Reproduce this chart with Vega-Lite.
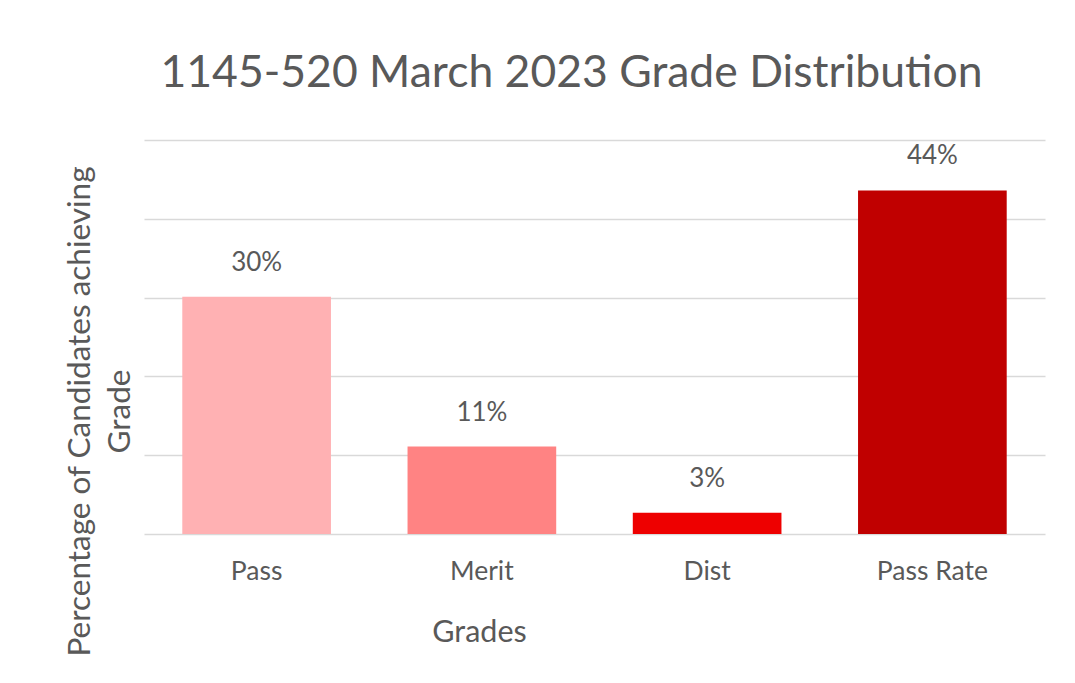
{
  "$schema": "https://vega.github.io/schema/vega-lite/v6.json",
  "width": 901,
  "height": 394,
  "autosize": {"type": "none"},
  "padding": {"left": 144, "top": 140, "right": 30, "bottom": 149},
  "background": "white",
  "config": {
    "view": {"stroke": null},
    "font": "Lato",
    "text": {"font": "Lato"}
  },
  "title": {
    "text": "1145-520 March 2023 Grade Distribution",
    "font": "Lato",
    "fontSize": 44.5,
    "fontWeight": "normal",
    "color": "#595959",
    "anchor": "middle",
    "dx": -23,
    "offset": 44
  },
  "data": {
    "values": [
      {"grade": "Pass", "pct": 0.301},
      {"grade": "Merit", "pct": 0.111},
      {"grade": "Dist", "pct": 0.027},
      {"grade": "Pass Rate", "pct": 0.436}
    ]
  },
  "encoding": {
    "x": {
      "field": "grade",
      "type": "nominal",
      "sort": ["Pass", "Merit", "Dist", "Pass Rate"],
      "scale": {"paddingInner": 0.34, "paddingOuter": 0.17},
      "axis": {
        "title": "Grades",
        "titleFont": "Lato",
        "titleFontSize": 30.5,
        "titleFontWeight": "normal",
        "titleColor": "#595959",
        "titleX": 335,
        "titleY": 98,
        "titleBaseline": "middle",
        "titleAlign": "center",
        "labelAngle": 0,
        "labelFont": "Lato",
        "labelFontSize": 26.5,
        "labelColor": "#595959",
        "labelPadding": 37,
        "labelBaseline": "middle",
        "ticks": false,
        "domain": false,
        "grid": false
      }
    },
    "y": {
      "field": "pct",
      "type": "quantitative",
      "scale": {"domain": [0, 0.5], "nice": false},
      "axis": {
        "title": ["Percentage of Candidates achieving", "Grade"],
        "titleFont": "Lato",
        "titleFontSize": 31.5,
        "titleFontWeight": "normal",
        "titleColor": "#595959",
        "titleAngle": -90,
        "titleX": -64,
        "titleY": 271,
        "titleAlign": "center",
        "titleBaseline": "middle",
        "titleLineHeight": 40,
        "values": [0, 0.1, 0.2, 0.3, 0.4, 0.5],
        "labels": false,
        "ticks": false,
        "domain": false,
        "grid": true,
        "gridColor": "#d9d9d9",
        "gridWidth": 1.5
      }
    }
  },
  "layer": [
    {
      "mark": {"type": "bar"},
      "encoding": {
        "color": {
          "field": "grade",
          "type": "nominal",
          "scale": {
            "domain": ["Pass", "Merit", "Dist", "Pass Rate"],
            "range": ["#ffb1b3", "#ff8383", "#ee0000", "#c00000"]
          },
          "legend": null
        }
      }
    },
    {
      "mark": {"type": "text", "font": "Lato", "fontSize": 26, "color": "#595959", "baseline": "middle", "dy": -34},
      "encoding": {
        "text": {"field": "pct", "type": "quantitative", "format": ".0%"}
      }
    }
  ]
}
